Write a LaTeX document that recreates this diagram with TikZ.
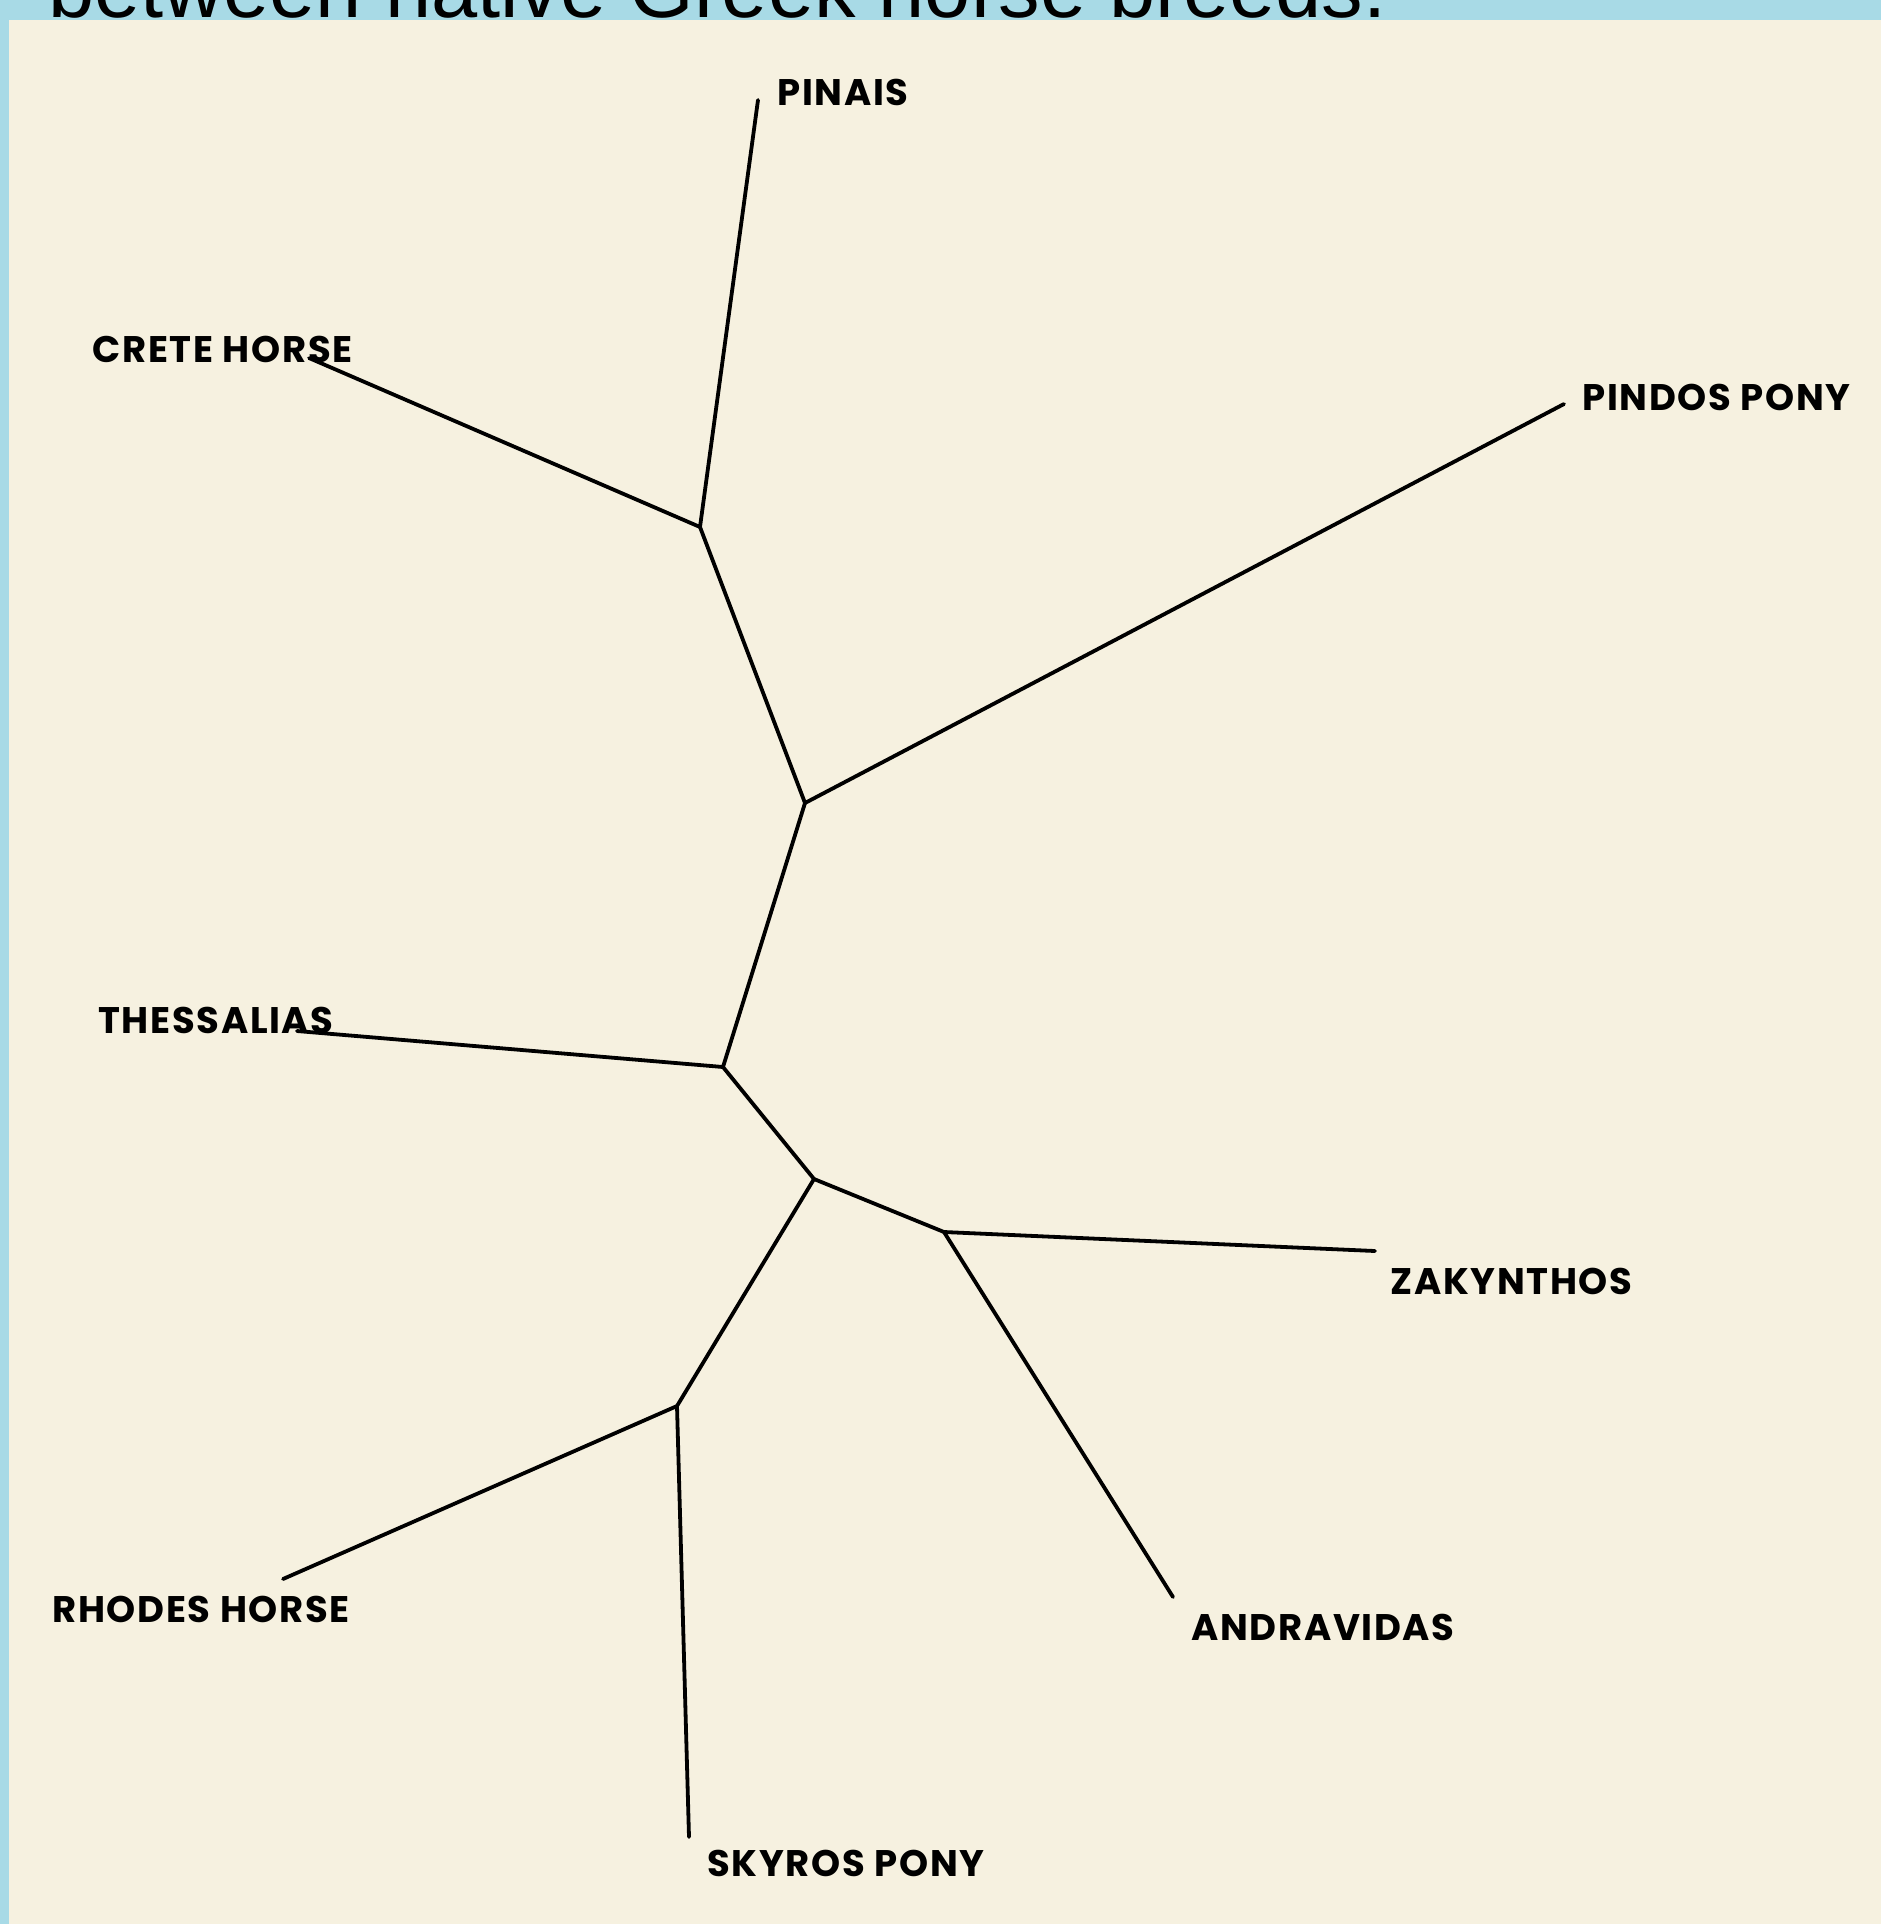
\documentclass[tikz,border=0pt]{standalone}
\usepackage{fontspec}
\usepackage{tikz}
\newfontfamily\breedfont{Poppins}[LetterSpace=4.5]
\newfontfamily\titlefont{Liberation Sans}
\definecolor{panel}{RGB}{246,241,224}
\definecolor{water}{RGB}{168,218,230}

\begin{document}
\begin{tikzpicture}[x=0.5pt, y=-0.5pt,
  branch/.style={line width=1.9pt, line join=round, line cap=round},
  breed/.style={anchor=base west, inner sep=0pt, font=\breedfont\bfseries\fontsize{18.5}{20}\selectfont}]
\useasboundingbox (0,0) rectangle (1881,1924);

% background
\fill[water] (0,0) rectangle (1881,1924);
\begin{scope}
\clip (0,0) rectangle (1881,20);
\node[anchor=base west, inner sep=0pt, font=\titlefont\fontsize{41.5}{44}\selectfont] (title) at (48,17) {between native Greek horse breeds.};
\end{scope}
\fill[panel] (9,20) rectangle (1881,1924);

% inner nodes of the tree
\coordinate (n1) at (700,527);
\coordinate (nA) at (805,803);
\coordinate (nB) at (723,1067);
\coordinate (nC) at (814,1179);
\coordinate (nD) at (944,1232);
\coordinate (nE) at (677,1406);

% leaf ends
\coordinate (lpin) at (758,100);
\coordinate (lcre) at (309,358);
\coordinate (lpon) at (1564,404);
\coordinate (lthe) at (297,1031);
\coordinate (lzak) at (1375,1251);
\coordinate (land) at (1173,1597);
\coordinate (lrho) at (283,1579);
\coordinate (lsky) at (689,1837);

% breed names
\node[breed] (pinais) at (777,105) {PINAIS};
\node[breed] (crete) at (92,362) {CRETE HORSE};
\node[breed] (pindos) at (1582,410) {PINDOS PONY};
\node[breed] (thess) at (98,1033) {THESSALIAS};
\node[breed] (zak) at (1390,1294) {ZAKYNTHOS};
\node[breed] (andr) at (1191,1640) {ANDRAVIDAS};
\node[breed] (rhodes) at (52,1622) {RHODES HORSE};
\node[breed] (skyros) at (707,1876) {SKYROS PONY};

% branches
\draw[branch] (lpin) -- (n1) -- (lcre);
\draw[branch] (n1) -- (nA) -- (lpon);
\draw[branch] (nA) -- (nB) -- (lthe);
\draw[branch] (nB) -- (nC) -- (nD) -- (lzak);
\draw[branch] (nD) -- (land);
\draw[branch] (nC) -- (nE) -- (lrho);
\draw[branch] (nE) -- (lsky);
\end{tikzpicture}
\end{document}
